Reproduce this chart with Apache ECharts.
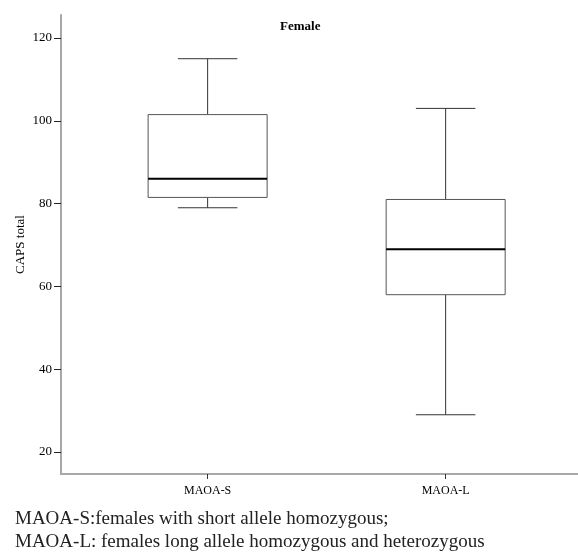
<!DOCTYPE html>
<html>
<head>
<meta charset="utf-8">
<script src="https://cdn.jsdelivr.net/npm/echarts@6/dist/echarts.min.js"></script>
<style>
  html, body { margin: 0; padding: 0; background: #fff; }
  #eChart { width: 578px; height: 554px; }
</style>
</head>
<body>
<div id="eChart"></div>
<script>
var categories = ['MAOA-S', 'MAOA-L'];
var lowWhisker = [79, 29];
var q1 = [81.5, 58];
var median = [86, 69];
var q3 = [101.5, 81];
var highWhisker = [115, 103];
var yTicks = [20, 40, 60, 80, 100, 120];
var footNotes = [
    'MAOA-S:females with short allele homozygous;',
    'MAOA-L: females long allele homozygous and heterozygous'
];

var boxData = [];
for (var i = 0; i < categories.length; i++) {
    boxData.push([i, lowWhisker[i], q1[i], median[i], q3[i], highWhisker[i]]);
}

// whisker, box and thick median line for one group
function renderBox(params, api) {
    var x = api.value(0);
    var pLow = api.coord([x, api.value(1)]);
    var pQ1 = api.coord([x, api.value(2)]);
    var pMed = api.coord([x, api.value(3)]);
    var pQ3 = api.coord([x, api.value(4)]);
    var pHigh = api.coord([x, api.value(5)]);
    var boxW = api.size([0.5, 0])[0];
    var capW = api.size([0.25, 0])[0];
    var cx = pMed[0];
    var thin = { stroke: '#333', lineWidth: 1, fill: null };
    return {
        type: 'group',
        children: [
            { type: 'line', shape: { x1: cx, y1: pQ3[1], x2: cx, y2: pHigh[1] }, style: thin },
            { type: 'line', shape: { x1: cx - capW / 2, y1: pHigh[1], x2: cx + capW / 2, y2: pHigh[1] }, style: thin },
            { type: 'line', shape: { x1: cx, y1: pQ1[1], x2: cx, y2: pLow[1] }, style: thin },
            { type: 'line', shape: { x1: cx - capW / 2, y1: pLow[1], x2: cx + capW / 2, y2: pLow[1] }, style: thin },
            { type: 'rect', shape: { x: cx - boxW / 2, y: pQ3[1], width: boxW, height: pQ1[1] - pQ3[1] },
              style: { stroke: '#555', lineWidth: 1, fill: '#fff' } },
            { type: 'line', shape: { x1: cx - boxW / 2, y1: pMed[1], x2: cx + boxW / 2, y2: pMed[1] },
              style: { stroke: '#000', lineWidth: 2 } }
        ]
    };
}

var myChart = echarts.init(document.getElementById('eChart'));
var serif = '"Liberation Serif", "Times New Roman", serif';

var option = {
    animation: false,
    title: {
        text: 'Female',
        left: 275,
        top: 15,
        textStyle: { fontFamily: serif, fontSize: 13, fontWeight: 'bold', color: '#000' }
    },
    grid: { left: 61, right: 0, top: 15, bottom: 80 },
    xAxis: {
        type: 'value',
        min: -0.616,
        max: 1.556,
        splitLine: { show: false },
        axisLine: { show: true, onZero: false, lineStyle: { color: '#a8a8a8', width: 2 } },
        axisTick: { show: true, length: 5, customValues: [0, 1], lineStyle: { color: '#333', width: 1 } },
        axisLabel: {
            customValues: [0, 1],
            margin: 11,
            fontFamily: serif,
            fontSize: 12,
            color: '#000',
            formatter: function (v) { return categories[Math.round(v)] || ''; }
        }
    },
    yAxis: {
        type: 'value',
        min: 14.69,
        max: 125.56,
        name: 'CAPS total',
        nameLocation: 'middle',
        nameGap: 34,
        nameMoveOverlap: false,
        nameTextStyle: { fontFamily: serif, fontSize: 13, color: '#000' },
        splitLine: { show: false },
        axisLine: { show: true, onZero: false, lineStyle: { color: '#a8a8a8', width: 2 } },
        axisTick: { show: true, length: 7, customValues: yTicks, lineStyle: { color: '#222', width: 1 } },
        axisLabel: { customValues: yTicks, margin: 9, fontFamily: serif, fontSize: 13, color: '#000' }
    },
    graphic: [
        { type: 'text', left: 15, top: 510, style: { text: footNotes[0], font: '19px ' + serif, fill: '#222' } },
        { type: 'text', left: 15, top: 533, style: { text: footNotes[1], font: '19px ' + serif, fill: '#222' } }
    ],
    series: [{
        type: 'custom',
        renderItem: renderBox,
        encode: { x: 0, y: [1, 2, 3, 4, 5] },
        data: boxData,
        clip: false
    }]
};
myChart.setOption(option);
</script>
</body>
</html>
